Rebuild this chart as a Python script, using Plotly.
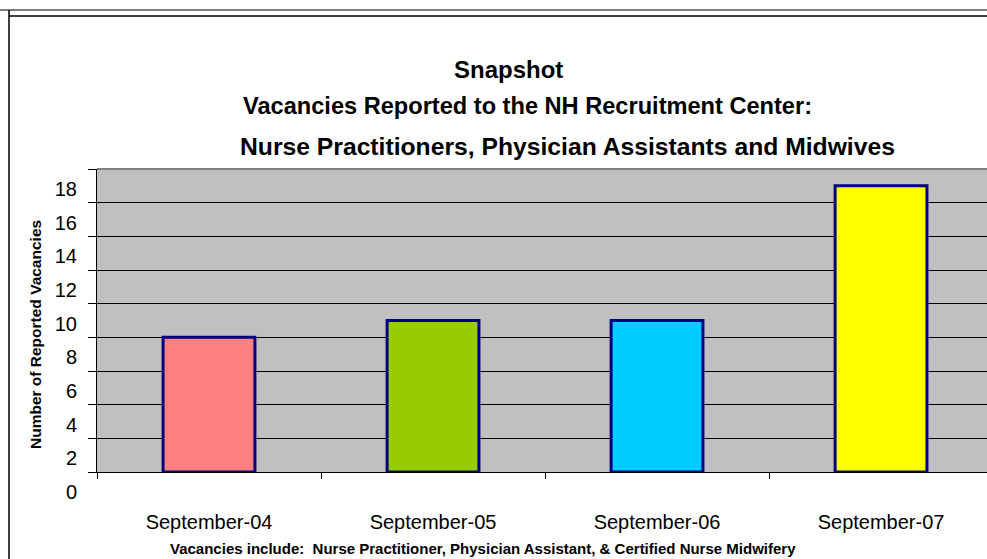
import plotly.graph_objects as go

# ---- data ----
categories = ["September-04", "September-05", "September-06", "September-07"]
vacancies = [8, 9, 9, 17]
y_ticks = [0, 2, 4, 6, 8, 10, 12, 14, 16, 18]
title_lines = [
    "Snapshot",
    "Vacancies Reported to the NH Recruitment Center:",
    "Nurse Practitioners, Physician Assistants and Midwives",
]
y_title = "Number of Reported Vacancies"
footnote = "Vacancies include:  Nurse Practitioner, Physician Assistant, & Certified Nurse Midwifery"

# ---- styles ----
bar_colors = ["#FF8080", "#99CC00", "#00CCFF", "#FFFF00"]
FONT = "Arial, Liberation Sans, sans-serif"
W, H = 987, 559              # figure size (page margin removed below)
PL, PT, PB = 97, 169, 472    # plot area edges in window pixels
L, T, B, R = PL, PT, H - PB, 0
PW, PH = W - L - R, H - T - B


def px_x(px):
    return (px - PL) / PW


def px_y(py):
    return (PB - py) / PH


fig = go.Figure(
    go.Bar(
        x=categories,
        y=vacancies,
        width=0.41,
        marker=dict(color=bar_colors, line=dict(color="#000080", width=3)),
        hoverinfo="x+y",
    )
)

fig.update_layout(
    width=W,
    height=H,
    margin=dict(l=L, r=R, t=T, b=B, pad=0),
    paper_bgcolor="white",
    plot_bgcolor="#C0C0C0",
    showlegend=False,
    font=dict(family=FONT, color="black"),
)

fig.update_xaxes(
    type="category",
    range=[-0.5, 3.473],
    showgrid=False,
    showline=True,
    linecolor="black",
    linewidth=1,
    ticks="outside",
    tickson="boundaries",
    ticklen=6,
    tickcolor="black",
    tickfont=dict(size=20, family=FONT, color="black"),
    ticklabelstandoff=32,
)

fig.update_yaxes(
    range=[0, 18],
    tickvals=y_ticks,
    showgrid=True,
    gridcolor="black",
    gridwidth=1,
    zeroline=False,
    showline=True,
    linecolor="black",
    linewidth=1,
    ticks="outside",
    ticklen=8,
    tickcolor="black",
    tickfont=dict(size=20, family=FONT, color="black"),
    ticklabelstandoff=7,
    ticklabelshift=20,
)

# title lines
title_specs = [(508, 70, 24), (527, 106, 23.6), (567, 146, 24.7)]
for text, (cx, cy, fs) in zip(title_lines, title_specs):
    fig.add_annotation(
        text=f"<b>{text}</b>", xref="paper", yref="paper",
        x=px_x(cx), y=px_y(cy), xanchor="center", yanchor="middle",
        showarrow=False, font=dict(size=fs, family=FONT, color="black"),
    )

# y-axis title
fig.add_annotation(
    text=f"<b>{y_title}</b>", xref="paper", yref="paper",
    x=px_x(35), y=px_y(335), xanchor="center", yanchor="middle",
    textangle=-90, showarrow=False, font=dict(size=15.5, family=FONT, color="black"),
)

# footnote
fig.add_annotation(
    text=f"<b>{footnote}</b>", xref="paper", yref="paper",
    x=px_x(483), y=px_y(548), xanchor="center", yanchor="middle",
    showarrow=False, font=dict(size=15, family=FONT, color="black"),
)

# plot area top border (gray)
fig.add_shape(type="line", xref="paper", yref="paper", x0=0, x1=1, y0=1, y1=1,
              line=dict(color="#808080", width=2), layer="above")

# outer frame
fig.add_shape(type="line", xref="paper", yref="paper", x0=px_x(0), x1=px_x(1000),
              y0=px_y(10), y1=px_y(10), line=dict(color="#808080", width=2))
fig.add_shape(type="line", xref="paper", yref="paper", x0=px_x(9), x1=px_x(1000),
              y0=px_y(16), y1=px_y(16), line=dict(color="black", width=1.5))
fig.add_shape(type="line", xref="paper", yref="paper", x0=px_x(9), x1=px_x(9),
              y0=px_y(10), y1=px_y(600), line=dict(color="black", width=1.5))

fig.write_html(
    "out.html",
    config={"displayModeBar": False},
    post_script="document.body.style.margin='0';"
                "document.documentElement.style.overflow='hidden';"
                "document.body.style.overflow='hidden';",
)
